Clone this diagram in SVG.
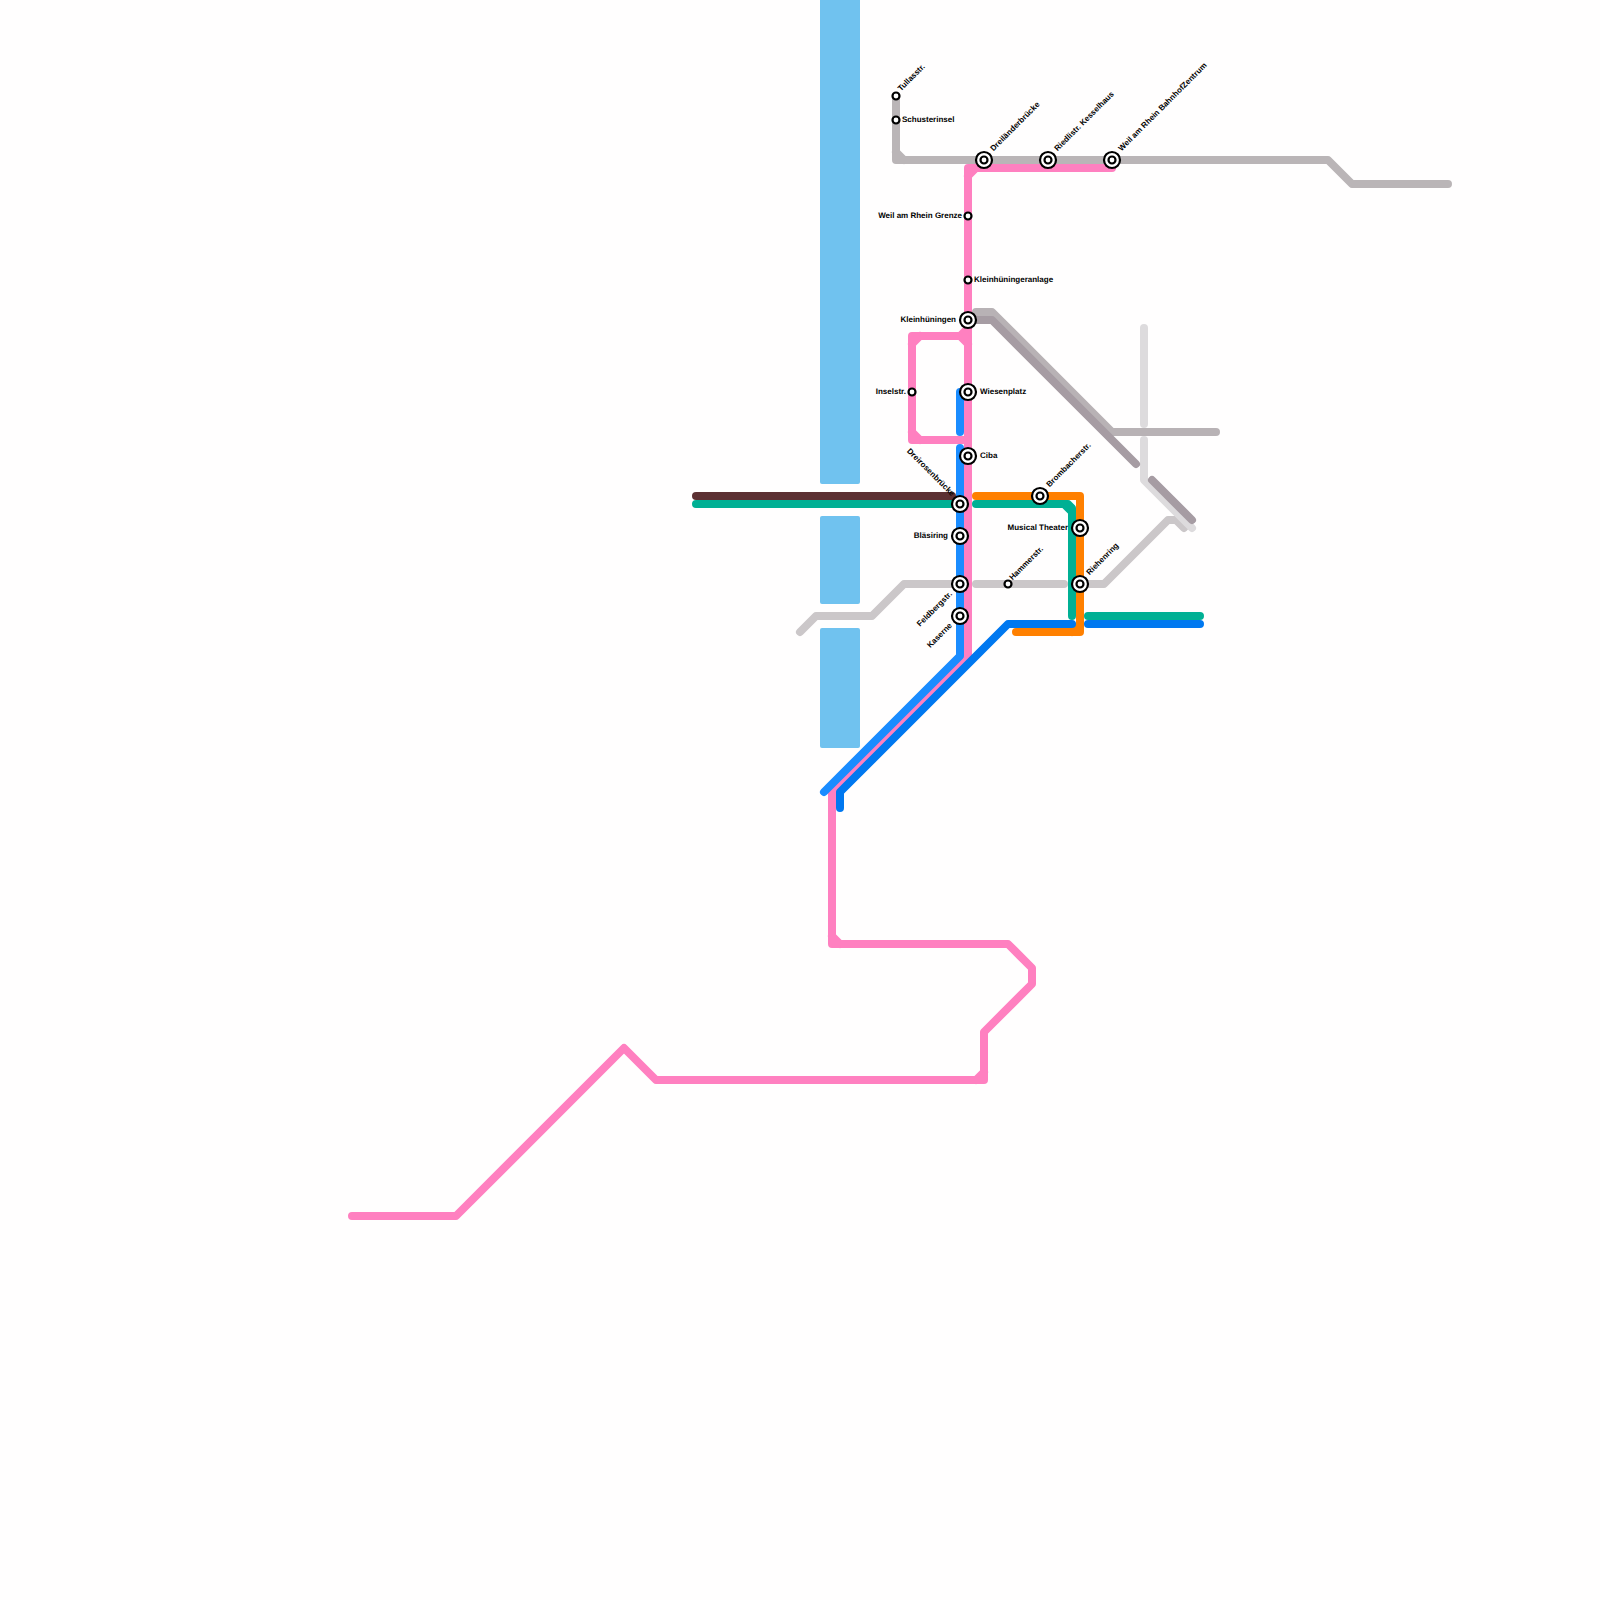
<svg xmlns="http://www.w3.org/2000/svg" width="1600" height="1600" viewBox="0 0 1600 1600">
<style>
.l{fill:none;stroke-width:8;stroke-linecap:round;stroke-linejoin:round}
.w{fill:#70c2ef}
.o{fill:#fff;stroke:#000;stroke-width:2.2}
.i{fill:#fff;stroke:#000;stroke-width:2.2}
.s{fill:#fff;stroke:#000;stroke-width:2.2}
text{font-family:"Liberation Sans",Arial,sans-serif;font-size:8px;font-weight:700;fill:#000;text-rendering:geometricPrecision}
.e{text-anchor:end}
</style>
<rect width="1600" height="1600" fill="#fffefe"/>
<g id="water">
<rect class="w" x="820" y="-10" width="40" height="494" rx="2"/>
<rect class="w" x="820" y="516" width="40" height="88" rx="2"/>
<rect class="w" x="820" y="628" width="40" height="120" rx="2"/>
</g>
<g id="connectors">
<path class="l" stroke="#cbc7c9" d="M800 632L816 616H872L904 584H960M976 584H1064M1080 584H1104L1168 520H1176L1184 528"/>
<path class="l" stroke="#dddbdd" d="M1144 328V424M1144 440V480L1192 528"/>
<path class="l" stroke="#b8b2b5" d="M976 312H992L1112 432H1216"/>
<path class="l" stroke="#a69ca3" d="M976 320H992L1136 464M1152 480L1192 520"/>
<path class="l" stroke="#bab5b7" d="M896 96V160H1328L1352 184H1448M896 152L904 160"/>
<path class="l" stroke="#5c3032" d="M696 496H952"/>
<path class="l" stroke="#00b094" d="M696 504H960M976 504H1068L1072 508V616M1064 504L1072 512M1088 616H1200"/>
<path class="l" stroke="#ff8000" d="M976 496H1080V632H1016M1072 632L1080 624"/>
<path class="l" stroke="#ff80c0" d="M1112 168H968V656L832 792V944H1008L1032 968V984L984 1032V1080H656L624 1048L456 1216H352M968 176L976 168M968 328L960 336H912V440H968M960 336L968 344M912 344L920 336M912 432L920 440M832 936L840 944M984 1072L976 1080"/>
<path class="l" stroke="#0078f0" d="M1072 624H1008L840 792V808M1088 624H1200"/>
<path class="l" stroke="#1a8cff" d="M960 392V432M960 448V656L824 792"/>
</g>
<g id="st-tullasstr"><circle class="s" cx="896" cy="96" r="3.5"/><text transform="translate(901 91.5) rotate(-45)">Tullasstr.</text></g>
<g id="st-schusterinsel"><circle class="s" cx="896" cy="120" r="3.5"/><text x="902" y="122">Schusterinsel</text></g>
<g id="st-dreilaender"><circle class="o" cx="984" cy="160" r="8"/><circle class="i" cx="984" cy="160" r="3.5"/><text transform="translate(993.5 151.5) rotate(-45)">Dreiländerbrücke</text></g>
<g id="st-riedlistr"><circle class="o" cx="1048" cy="160" r="8"/><circle class="i" cx="1048" cy="160" r="3.5"/><text transform="translate(1057.5 151.5) rotate(-45)">Riedlistr. Kesselhaus</text></g>
<g id="st-weil-bf"><circle class="o" cx="1112" cy="160" r="8"/><circle class="i" cx="1112" cy="160" r="3.5"/><text transform="translate(1121.5 151.5) rotate(-45)">Weil am Rhein BahnhofZentrum</text></g>
<g id="st-weil-grenze"><circle class="s" cx="968" cy="216" r="3.5"/><text class="e" x="962" y="217.5">Weil am Rhein Grenze</text></g>
<g id="st-kleinhueningeranlage"><circle class="s" cx="968" cy="280" r="3.5"/><text x="974" y="281.5">Kleinhüningeranlage</text></g>
<g id="st-kleinhueningen"><circle class="o" cx="968" cy="320" r="8"/><circle class="i" cx="968" cy="320" r="3.5"/><text class="e" x="956" y="321.5">Kleinhüningen</text></g>
<g id="st-inselstr"><circle class="s" cx="912" cy="392" r="3.5"/><text class="e" x="906" y="393.5">Inselstr.</text></g>
<g id="st-wiesenplatz"><circle class="o" cx="968" cy="392" r="8"/><circle class="i" cx="968" cy="392" r="3.5"/><text x="980" y="393.5">Wiesenplatz</text></g>
<g id="st-ciba"><circle class="o" cx="968" cy="456" r="8"/><circle class="i" cx="968" cy="456" r="3.5"/><text x="980" y="457.5">Ciba</text></g>
<g id="st-dreirosen"><circle class="o" cx="960" cy="504" r="8"/><circle class="i" cx="960" cy="504" r="3.5"/><text class="e" transform="translate(951.5 496.5) rotate(45)">Dreirosenbrücke</text></g>
<g id="st-blaesiring"><circle class="o" cx="960" cy="536" r="8"/><circle class="i" cx="960" cy="536" r="3.5"/><text class="e" x="948" y="537.5">Bläsiring</text></g>
<g id="st-feldbergstr"><circle class="o" cx="960" cy="584" r="8"/><circle class="i" cx="960" cy="584" r="3.5"/><text class="e" transform="translate(952.5 594.5) rotate(-45)">Feldbergstr.</text></g>
<g id="st-kaserne"><circle class="o" cx="960" cy="616" r="8"/><circle class="i" cx="960" cy="616" r="3.5"/><text class="e" transform="translate(952.5 626) rotate(-45)">Kaserne</text></g>
<g id="st-brombacher"><circle class="o" cx="1040" cy="496" r="8"/><circle class="i" cx="1040" cy="496" r="3.5"/><text transform="translate(1049.5 487.5) rotate(-45)">Brombacherstr.</text></g>
<g id="st-musical"><circle class="o" cx="1080" cy="528" r="8"/><circle class="i" cx="1080" cy="528" r="3.5"/><text class="e" x="1068" y="529.5">Musical Theater</text></g>
<g id="st-riehenring"><circle class="o" cx="1080" cy="584" r="8"/><circle class="i" cx="1080" cy="584" r="3.5"/><text transform="translate(1089.5 575.5) rotate(-45)">Riehenring</text></g>
<g id="st-hammerstr"><circle class="s" cx="1008" cy="584" r="3.5"/><text transform="translate(1012.5 580.5) rotate(-45)">Hammerstr.</text></g>
</svg>
